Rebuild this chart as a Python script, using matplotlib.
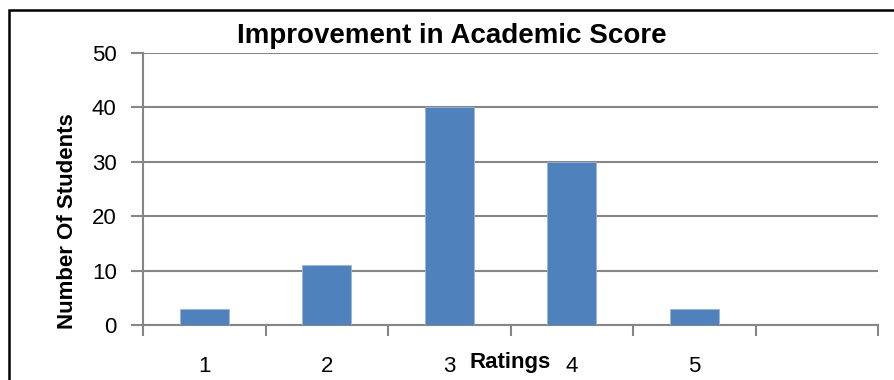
import matplotlib.pyplot as plt
from matplotlib.patches import Rectangle

ratings = ["1", "2", "3", "4", "5", ""]
students = [3, 11, 40, 30, 3, 0]
y_ticks = [0, 10, 20, 30, 40, 50]

bar_color = "#4F81BD"
grid_color = "#868686"

plt.rcParams["font.family"] = ["Liberation Sans", "DejaVu Sans"]

fig = plt.figure(figsize=(8.94, 3.8), dpi=100)
ax = fig.add_axes([0.16, 0.1447, 0.8221, 0.7158])

x = list(range(len(ratings)))
ax.bar(x, students, width=0.4, color=bar_color, edgecolor="#9BB7D9", linewidth=0.6, zorder=3)

ax.set_xlim(-0.5, len(ratings) - 0.5)
ax.set_ylim(0, 50)
ax.set_yticks(y_ticks)
ax.yaxis.grid(True, color=grid_color, linewidth=1.5, zorder=0)

# category labels centred, tick marks between categories
ax.set_xticks(x)
ax.set_xticklabels(ratings)
ax.tick_params(axis="x", which="major", length=0, pad=22, labelsize=16)
ax.set_xticks([i - 0.5 for i in range(len(ratings) + 1)], minor=True)
ax.tick_params(axis="x", which="minor", length=8, width=1.5, color=grid_color, direction="out")
ax.tick_params(axis="y", length=9, width=1.5, color=grid_color, labelsize=16, pad=10)

for side in ["top", "right"]:
    ax.spines[side].set_visible(False)
for side in ["left", "bottom"]:
    ax.spines[side].set_color(grid_color)
    ax.spines[side].set_linewidth(1.5)

fig.text(0.505, 0.905, "Improvement in Academic Score", ha="center", va="center",
         fontsize=20, fontweight="bold")
fig.text(0.571, 0.045, "Ratings", ha="center", va="center", fontsize=16, fontweight="bold")
fig.text(0.076, 0.418, "Number Of Students", ha="center", va="center", rotation=90,
         fontsize=16, fontweight="bold")

# outer chart border
fig.patches.append(Rectangle((9 / 894, -0.05), 1.2, 1 - 10 / 380 + 0.05, transform=fig.transFigure,
                             fill=False, edgecolor="black", linewidth=1.8))

fig.savefig("out.png", dpi=100)
